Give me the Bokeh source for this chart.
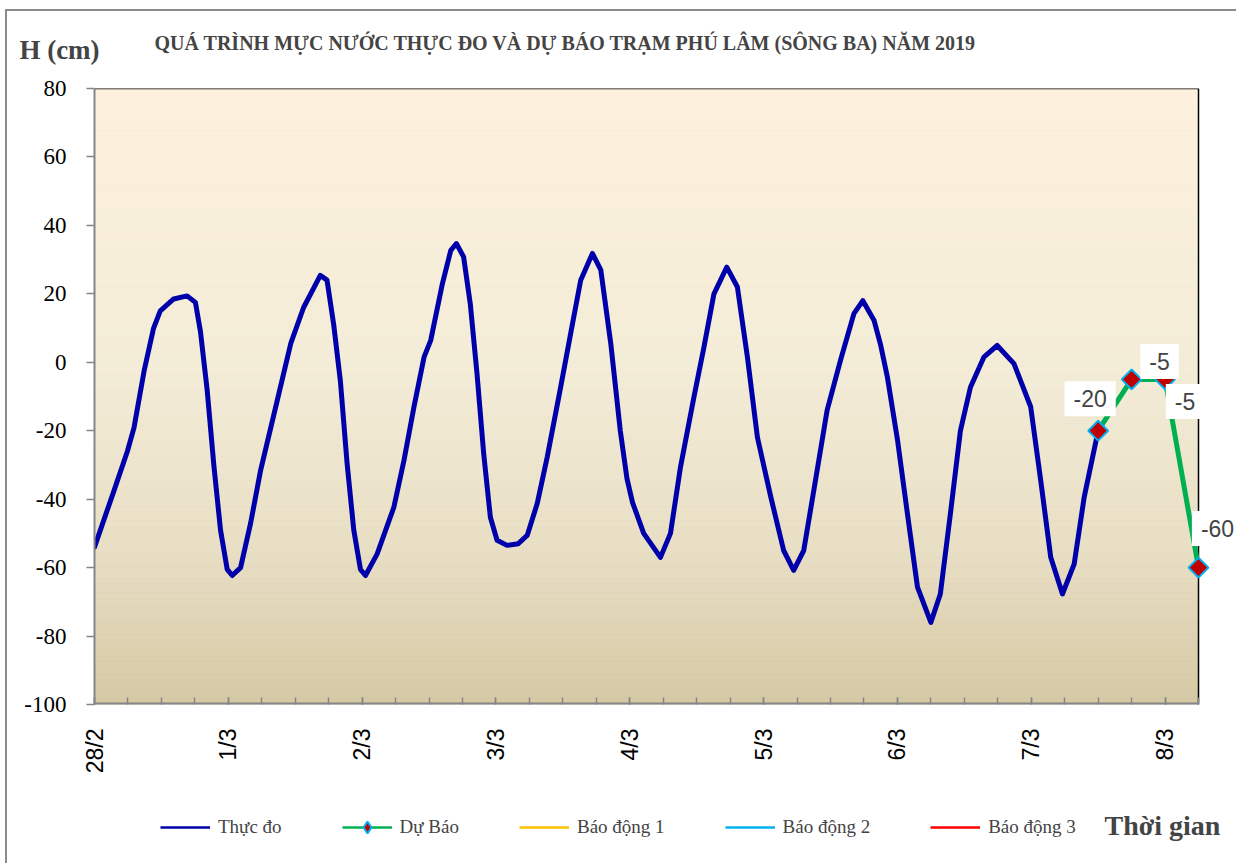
import math
from bokeh.plotting import figure
from bokeh.layouts import column
from bokeh.models import (FixedTicker, Range1d, Label, Legend, LegendItem, Plot)
from bokeh.embed import file_html
from bokeh.resources import INLINE

# ---------------- data ----------------
title_text = "QUÁ TRÌNH MỰC NƯỚC THỰC ĐO VÀ DỰ BÁO TRẠM PHÚ LÂM (SÔNG BA) NĂM 2019"
y_title = "H (cm)"
x_title = "Thời gian"

day_labels = ["28/2", "1/3", "2/3", "3/3", "4/3", "5/3", "6/3", "7/3", "8/3"]
day_hours = [0, 24, 48, 72, 96, 120, 144, 168, 192]
step_hours = [0, 6, 12, 18, 24, 30, 36, 42, 48, 54, 60, 66, 72, 78, 84, 90, 96, 102,
              108, 114, 120, 126, 132, 138, 144, 150, 156, 162, 168, 174, 180, 186, 192, 198]
y_ticks = [-100, -80, -60, -40, -20, 0, 20, 40, 60, 80]
y_tick_labels = ["-100", "-80", "-60", "-40", "-20", "0", "20", "40", "60", "80"]

# Thực đo (hours since 28/2 00h, water level cm)
obs_hours = [0, 3.5, 5.9, 7.1, 8.9, 10.6, 11.8, 14.2, 16.6, 18.1, 19.0, 20.2, 21.4, 22.6,
             23.8, 24.7, 26.2, 28.0, 29.8, 32.8, 35.2, 37.5, 40.5, 41.7, 42.9, 44.1, 45.3,
             46.5, 47.7, 48.6, 50.7, 53.7, 55.5, 57.3, 59.1, 60.3, 62.4, 63.9, 64.9, 66.2,
             67.4, 68.6, 69.8, 71.0, 72.2, 74.0, 76.0, 77.6, 79.4, 81.2, 83.6, 85.4, 87.2,
             89.3, 90.8, 92.6, 94.3, 95.5, 96.5, 98.5, 101.5, 103.3, 105.1, 107.5, 109.3,
             111.1, 113.4, 115.3, 117.1, 118.9, 121.3, 123.6, 125.4, 127.2, 129.0, 131.4,
             133.8, 136.2, 137.8, 139.8, 141.0, 142.2, 144.0, 145.8, 147.6, 150.0, 151.7,
             153.5, 155.3, 157.1, 159.5, 161.9, 164.9, 167.9, 169.7, 171.5, 173.6, 175.7,
             177.5, 180.0]
obs_values = [-54, -37.5, -26, -19, -2.5, 10, 15, 18.5, 19.4, 17.5, 9, -8, -30, -49,
              -60.5, -62.3, -60, -47, -31.5, -11, 5.5, 16, 25.4, 24, 11, -5.5, -29.5,
              -49, -60.5, -62.3, -56, -42.3, -28.7, -13, 1.5, 6.4, 23, 32.7, 34.7, 30.8,
              17, -3.3, -26.7, -45.3, -52, -53.5, -53, -50.6, -41.3, -27.7, -7.3, 8.4, 24,
              31.8, 27, 5.4, -20, -34, -41, -50, -57, -50, -30.6, -10.2, 4.4,
              20, 27.8, 22, 1.5, -22, -39.4, -55, -60.8, -55, -37.5, -14,
              0.6, 14.2, 18, 12.3, 5, -4.3, -22.5, -44.3, -65.7, -76, -67.7,
              -44.3, -20, -7.3, 1.5, 4.9, -0.4, -13, -34.5, -57, -67.7, -59,
              -39.4, -20]

# Dự Báo
fc_hours = [180, 186, 192, 198]
fc_values = [-20, -5, -5, -60]

# Báo động 1/2/3 (not visible in this range)
bd1_hours, bd1_values = [], []
bd2_hours, bd2_values = [], []
bd3_hours, bd3_values = [], []

# ---------------- style ----------------
label_dx = [-8, 28, 20, 19]
label_dy = [32, 18, -22, 39]
serif = "Liberation Serif"
sans = "Liberation Sans"
W = 1236
TOP_H = 76
TOP_PAD = 12
FRAME_L = 94
FRAME_H = 616
BOT_AXIS = 80
LEG_H = 79
DATA_PX = 1104           # pixel width of the plotting area in the reference
C_OBS, C_FC = "#0000AA", "#00B050"
C_BD1, C_BD2, C_BD3 = "#FFC000", "#00B0F0", "#FF0000"
C_MK_FILL, C_MK_LINE = "#C00000", "#00B0F0"
GRAY = "#868686"
BORDER = "#8c8c8c"
NAN = float("nan")

x0, x1 = obs_hours[0], fc_hours[-1]
y0, y1 = y_ticks[0], y_ticks[-1]
x_end = x0 + (x1 - x0) * (W - FRAME_L) / DATA_PX   # room to the right for the labels

HAS_FA = "frame_align" in Plot.properties()


def bare(height, yr):
    f = figure(width=W, height=height, output_backend="svg", toolbar_location=None,
               x_range=Range1d(0, W), y_range=yr, x_axis_location=None,
               y_axis_location=None, min_border=0, min_border_left=0,
               min_border_right=0, min_border_top=0, min_border_bottom=0)
    f.outline_line_color = None
    f.background_fill_color = None
    f.border_fill_color = None
    f.xgrid.visible = False
    f.ygrid.visible = False
    if HAS_FA:
        f.frame_align = False
    return f


# ---- top strip: titles ----
top = bare(TOP_H, Range1d(TOP_H, 0))
top.add_layout(Label(x=565, y=42, text=title_text, text_font=serif,
                     text_font_style="bold", text_font_size="20px",
                     text_align="center", text_baseline="middle"))
top.add_layout(Label(x=59, y=49, text=y_title, text_font=serif, text_font_style="bold",
                     text_font_size="27px", text_align="center", text_baseline="middle"))

# ---- main chart ----
p = figure(width=W, height=TOP_PAD + FRAME_H + BOT_AXIS, output_backend="svg",
           toolbar_location=None, x_range=Range1d(x0, x_end), y_range=Range1d(y0, y1),
           min_border_left=FRAME_L, min_border_right=0, min_border_top=TOP_PAD,
           min_border_bottom=BOT_AXIS)
if HAS_FA:
    p.frame_align = False
p.outline_line_color = None
p.background_fill_color = None
p.border_fill_color = None
p.xgrid.visible = False
p.ygrid.visible = False

stops = [(0.0, (253, 241, 221)), (0.45, (243, 236, 215)), (0.75, (232, 222, 196)),
         (1.0, (213, 200, 163))]
def grad(t):
    for (ta, ca), (tb, cb) in zip(stops[:-1], stops[1:]):
        if ta <= t <= tb:
            f = (t - ta) / (tb - ta)
            c = [round(a + (b - a) * f) for a, b in zip(ca, cb)]
            return "#%02x%02x%02x" % tuple(c)
    return "#%02x%02x%02x" % stops[-1][1]
nb = 120
hgt = (y1 - y0) / nb
bots = [y0 + i * hgt for i in range(nb)]
tops = [b + hgt for b in bots]
cols = [grad(1 - (b + hgt / 2 - y0) / (y1 - y0)) for b in bots]
p.quad(left=x0, right=x1, bottom=bots, top=tops, fill_color=cols, line_color=cols,
       line_width=0.6)
# plot-area border: black top and right, gray bottom
p.line([x0, x1], [y1, y1], line_color="black", line_width=1.5)
p.line([x1, x1], [y0, y1], line_color="black", line_width=1.5)
p.line([x0, x1], [y0, y0], line_color=GRAY, line_width=4)

p.line(obs_hours, obs_values, line_color=C_OBS, line_width=5,
       line_join="round", line_cap="round")
p.line(fc_hours, fc_values, line_color=C_FC, line_width=5, line_join="round",
       line_cap="round")
p.scatter(fc_hours, fc_values, marker="square", angle=math.pi / 4, size=14,
          fill_color=C_MK_FILL, line_color=C_MK_LINE, line_width=2)

props = Label.properties()
for hx, hv, dx, dy in zip(fc_hours, fc_values, label_dx, label_dy):
    kw = dict(padding=9) if "padding" in props else {}
    p.add_layout(Label(x=hx, y=hv, x_offset=dx, y_offset=dy, text="%g" % hv,
                       text_font=sans, text_font_size="23px", text_align="center",
                       text_baseline="middle", background_fill_color="white", **kw))

xa = p.xaxis[0]
xa.ticker = FixedTicker(ticks=day_hours, minor_ticks=step_hours)
xa.major_label_overrides = {h: l for h, l in zip(day_hours, day_labels)}
xa.major_label_orientation = math.pi / 2
xa.major_label_text_font = sans
xa.major_label_text_font_size = "23px"
xa.major_label_text_color = "black"
xa.major_label_standoff = 24
xa.major_tick_in = 7
xa.major_tick_out = 0
xa.minor_tick_in = 7
xa.minor_tick_out = 0
xa.axis_line_color = None
xa.major_tick_line_color = GRAY
xa.minor_tick_line_color = GRAY
xa.major_tick_line_width = 1.5
xa.minor_tick_line_width = 1.5

ya = p.yaxis[0]
ya.ticker = FixedTicker(ticks=y_ticks)
ya.major_label_overrides = {t: l for t, l in zip(y_ticks, y_tick_labels)}
ya.major_label_text_font = serif
ya.major_label_text_font_size = "23px"
ya.major_label_text_color = "black"
ya.major_label_standoff = 20
ya.major_tick_in = 0
ya.major_tick_out = 8
ya.minor_tick_out = 0
ya.minor_tick_in = 0
ya.axis_line_color = GRAY
ya.axis_line_width = 2
ya.major_tick_line_color = GRAY
ya.major_tick_line_width = 1.5

# ---- bottom strip: legend + axis title ----
bot = bare(LEG_H, Range1d(0, LEG_H))
lg = [bot.line([NAN], [NAN], line_color=C_OBS, line_width=2.5),
      bot.line([NAN], [NAN], line_color=C_FC, line_width=2.5),
      bot.scatter([NAN], [NAN], marker="diamond", size=14,
                  fill_color=C_MK_FILL, line_color=C_MK_LINE, line_width=2),
      bot.line([NAN], [NAN], line_color=C_BD1, line_width=2.5),
      bot.line([NAN], [NAN], line_color=C_BD2, line_width=2.5),
      bot.line([NAN], [NAN], line_color=C_BD3, line_width=2.5)]
legend = Legend(items=[LegendItem(label="Thực đo", renderers=[lg[0]]),
                       LegendItem(label="Dự Báo", renderers=[lg[1], lg[2]]),
                       LegendItem(label="Báo động 1", renderers=[lg[3]]),
                       LegendItem(label="Báo động 2", renderers=[lg[4]]),
                       LegendItem(label="Báo động 3", renderers=[lg[5]])],
                orientation="horizontal", location=(160, 21), glyph_width=50,
                glyph_height=30, label_standoff=8, spacing=60, label_text_font=serif,
                label_text_font_size="19px", border_line_color=None,
                background_fill_alpha=0, padding=10, margin=0)
bot.add_layout(legend)
bot.add_layout(Label(x=1162, y=LEG_H - 41, text=x_title, text_font=serif,
                     text_font_style="bold", text_font_size="28px",
                     text_align="center", text_baseline="middle"))

# chart-area border (left and top), drawn as page background behind the figures
bg = (f"linear-gradient(to right, transparent 5px, {BORDER} 5px, {BORDER} 7px, "
      f"transparent 7px) 0 9px / 100% calc(100% - 9px) no-repeat, "
      f"linear-gradient(to bottom, transparent 9px, {BORDER} 9px, {BORDER} 11px, "
      f"transparent 11px) 5px 0 / calc(100% - 5px) 100% no-repeat, white")
page = column(top, p, bot, spacing=0, styles={"background": bg})
open("out.html", "w").write(file_html(page, INLINE))
